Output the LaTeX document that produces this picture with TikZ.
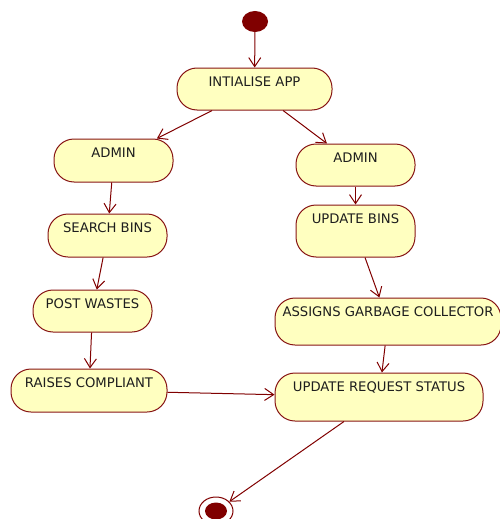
\documentclass[tikz,border=0pt]{standalone}
\usepackage{fontspec}
\setmainfont{DejaVu Sans}
\usepackage{tikz}
\usetikzlibrary{
arrows.meta,
positioning,
shapes.geometric
}
\definecolor{umlred}{RGB}{128,0,0}
\definecolor{umlborder}{RGB}{135,20,20}
\definecolor{umlyellow}{RGB}{255,255,192}
\definecolor{umltext}{RGB}{30,30,30}

\begin{document}
\begin{tikzpicture}[
  x=1pt, y=-1pt,
  >={Straight Barb[length=9pt,width=12pt]},
  act/.style={draw=umlborder, fill=umlyellow, line width=1pt, rounded corners=20pt,
    inner xsep=2pt, inner ysep=0pt, text height=18pt, text depth=#1-18pt,
    minimum height=#1, text=umltext, font=\fontsize{13.2}{15}\selectfont},
  flow/.style={->, line width=1pt, umlred},
  initial/.style={ellipse, fill=umlred, inner sep=0pt, minimum width=26pt, minimum height=21pt},
  final/.style={ellipse, draw=umlred, line width=1pt, fill=white, inner sep=0pt, minimum width=34pt, minimum height=28pt}
]
\useasboundingbox (0,0) rectangle (499,519);

% Start and end
\node[initial] (start) at (255,21.5) {};
\node[final] (stop) at (216,511) {};
\fill[umlred] (stop.center) ellipse [x radius=11pt, y radius=8.5pt];

% Activities
\node[act=42pt, minimum width=155pt] (init) at (254.5,89) {INTIALISE APP};
\node[act=43pt, minimum width=119pt] (adminL) at (113.5,160.5) {ADMIN};
\node[act=43pt, minimum width=119pt] (search) at (107.5,235.5) {SEARCH BINS};
\node[act=42pt, minimum width=119pt] (post) at (92.5,311) {POST WASTES};
\node[act=43pt, minimum width=156pt] (raise) at (89,390.5) {RAISES COMPLIANT};
\node[act=42pt, minimum width=119pt] (adminR) at (355.5,165) {ADMIN};
\node[act=52pt, minimum width=119pt] (update) at (355.5,231) {UPDATE BINS};
\node[act=47pt, minimum width=226pt] (assign) at (388,321.5) {ASSIGNS GARBAGE COLLECTOR};
\node[act=48pt, minimum width=208pt] (status) at (379,397) {UPDATE REQUEST STATUS};

% Flows
\draw[flow] (start) -- (init);
\draw[flow] (init) -- (adminL);
\draw[flow] (init) -- (adminR);
\draw[flow] (adminL) -- (search);
\draw[flow] (search) -- (post);
\draw[flow] (post) -- (raise);
\draw[flow] (raise) -- (status);
\draw[flow] (adminR) -- (update);
\draw[flow] (update) -- (assign);
\draw[flow] (assign) -- (status);
\draw[flow] (status) -- (stop);

\end{tikzpicture}
\end{document}
